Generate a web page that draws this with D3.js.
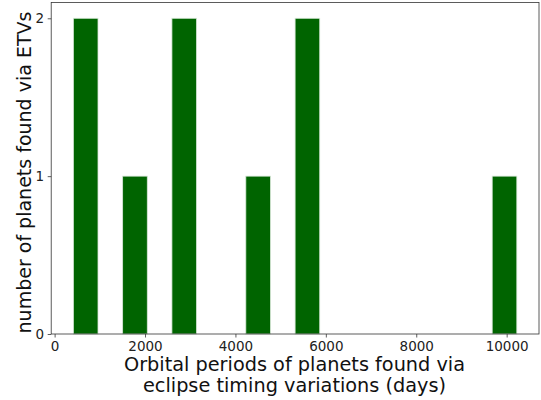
<!DOCTYPE html>
<html>
<head>
<meta charset="utf-8">
<script src="https://cdn.jsdelivr.net/npm/d3@7"></script>
<style>
  html, body { margin: 0; padding: 0; background: #fff; }
  svg { display: block; font-family: "DejaVu Sans", sans-serif; }
</style>
</head>
<body>
<svg id="chart" width="541" height="400"></svg>
<script>
// Histogram of orbital periods (days): bin edges and counts per bin
const binStart = 415;
const binWidth = 545;
const counts = [2, 0, 1, 0, 2, 0, 0, 1, 0, 2, 0, 0, 0, 0, 0, 0, 0, 1];
const xTicks = [0, 2000, 4000, 6000, 8000, 10000];
const yTicks = [0, 1, 2];
const xLabelLines = ["Orbital periods of planets found via", "eclipse timing variations (days)"];
const yLabel = "number of planets found via ETVs";

const bins = counts.map((c, i) => ({
  x0: binStart + i * binWidth,
  x1: binStart + (i + 1) * binWidth,
  count: c
}));

const svg = d3.select("#chart");
const plotLeft = 51.2, plotRight = 539, plotTop = 2.5, plotBottom = 334;

const xMin = bins[0].x0, xMax = bins[bins.length - 1].x1;
const pad = (xMax - xMin) * 0.05;
const x = d3.scaleLinear().domain([xMin - pad, xMax + pad]).range([plotLeft, plotRight]);
const y = d3.scaleLinear().domain([0, 2.1]).range([plotBottom, plotTop]);

// bars
svg.append("g")
  .selectAll("rect")
  .data(bins.filter(d => d.count > 0))
  .join("rect")
  .attr("x", d => x(d.x0))
  .attr("width", d => x(d.x1) - x(d.x0))
  .attr("y", d => y(d.count))
  .attr("height", d => y(0) - y(d.count))
  .attr("fill", "#006400")
  .attr("stroke", "#d8e8d8")
  .attr("stroke-width", 0.8);

// axes
const xAxis = d3.axisBottom(x).tickValues(xTicks).tickSize(3.5).tickPadding(3.5).tickFormat(d3.format("d"));
const yAxis = d3.axisLeft(y).tickValues(yTicks).tickSize(3.5).tickPadding(3.5).tickFormat(d3.format("d"));

const gx = svg.append("g").attr("transform", `translate(0,${plotBottom})`).call(xAxis);
const gy = svg.append("g").attr("transform", `translate(${plotLeft},0)`).call(yAxis);
[gx, gy].forEach(g => {
  g.select(".domain").remove();
  g.selectAll(".tick line").attr("stroke", "#333").attr("stroke-width", 0.8);
  g.selectAll(".tick text").attr("fill", "#222").style("font-size", "13.5px").style("font-family", "DejaVu Sans, sans-serif");
});

// frame
svg.append("rect")
  .attr("x", plotLeft).attr("y", plotTop)
  .attr("width", plotRight - plotLeft).attr("height", plotBottom - plotTop)
  .attr("fill", "none").attr("stroke", "#333").attr("stroke-width", 0.8);

// x label
svg.append("text")
  .attr("y", 370.7)
  .attr("text-anchor", "middle")
  .style("font-size", "19.3px")
  .attr("fill", "#111")
  .selectAll("tspan")
  .data(xLabelLines)
  .join("tspan")
  .attr("x", 294.5)
  .attr("dy", (d, i) => i === 0 ? 0 : 21.3)
  .text(d => d);

// y label
svg.append("text")
  .attr("transform", `translate(31,172.5) rotate(-90)`)
  .attr("text-anchor", "middle")
  .style("font-size", "19px")
  .attr("fill", "#111")
  .text(yLabel);
</script>
</body>
</html>
